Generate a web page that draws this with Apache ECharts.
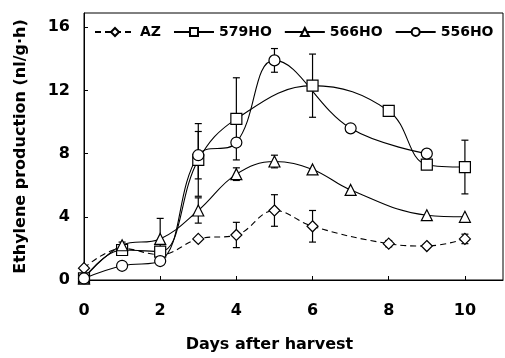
<!DOCTYPE html>
<html>
<head>
<meta charset="utf-8">
<script src="https://cdn.jsdelivr.net/npm/echarts@6/dist/echarts.min.js"></script>
<style>
  html, body { margin: 0; padding: 0; background: #fff; }
  #chart { width: 505px; height: 358px; }
</style>
</head>
<body>
<div id="chart"></div>
<script>
// data
const xTicks = [0, 2, 4, 6, 8, 10]
const yTicks = [0, 4, 8, 12, 16]

const azDays = [0, 1, 2, 3, 4, 5, 6, 8, 9, 10]
const azVals = [0.75, 2.0, 1.6, 2.6, 2.85, 4.4, 3.4, 2.3, 2.15, 2.6]
const azErr = [0, 0.4, 0, 0, 0.8, 1.0, 1.0, 0.2, 0, 0.3]

const ho579Days = [0, 1, 2, 3, 4, 6, 8, 9, 10]
const ho579Vals = [0.1, 1.9, 1.8, 7.6, 10.2, 12.3, 10.7, 7.3, 7.15]
const ho579Err = [0, 0, 0, 2.3, 2.6, 2.0, 0, 0, 1.7]

const ho566Days = [0, 1, 2, 3, 4, 5, 6, 7, 9, 10]
const ho566Vals = [0.1, 2.2, 2.6, 4.4, 6.7, 7.5, 7.0, 5.7, 4.1, 4.0]
const ho566Err = [0, 0, 1.3, 0.8, 0.4, 0.4, 0, 0, 0, 0]

const ho556Days = [0, 1, 2, 3, 4, 5, 7, 9]
const ho556Vals = [0.1, 0.9, 1.2, 7.9, 8.7, 13.9, 9.6, 8.0]
const ho556Err = [0, 0, 0, 1.5, 0, 0.75, 0, 0]

const font = 'DejaVu Sans, sans-serif'

function pairs(days, vals) {
  return days.map((d, i) => [d, vals[i]])
}

function errData(days, vals, errs) {
  return days.map((d, i) => [d, vals[i], errs[i]]).filter(p => p[2] > 0)
}

// vertical error bar with caps
function renderErr(params, api) {
  const x = api.value(0)
  const y = api.value(1)
  const e = api.value(2)
  const top = api.coord([x, y + e])
  const bot = api.coord([x, y - e])
  const cap = 3.5
  const style = { stroke: '#000', lineWidth: 1.2 }
  return {
    type: 'group',
    children: [
      { type: 'line', shape: { x1: top[0], y1: top[1], x2: bot[0], y2: bot[1] }, style },
      { type: 'line', shape: { x1: top[0] - cap, y1: top[1], x2: top[0] + cap, y2: top[1] }, style },
      { type: 'line', shape: { x1: bot[0] - cap, y1: bot[1], x2: bot[0] + cap, y2: bot[1] }, style }
    ]
  }
}

function lineSeries(name, days, vals, symbol, size, dashed) {
  return {
    name,
    type: 'line',
    smooth: 0.4,
    data: pairs(days, vals),
    symbol,
    symbolSize: size,
    z: 3,
    lineStyle: { color: '#000', width: 1.1, type: dashed ? [6, 4] : 'solid' },
    itemStyle: { color: '#fff', borderColor: '#000', borderWidth: 1.2 }
  }
}

function errSeries(days, vals, errs) {
  return {
    type: 'custom',
    renderItem: renderErr,
    data: errData(days, vals, errs),
    z: 2,
    silent: true
  }
}

const chart = echarts.init(document.getElementById('chart'))

chart.setOption({
  animation: false,
  backgroundColor: '#fff',
  grid: {
    left: 84,
    right: 2,
    top: 13,
    bottom: 74,
    show: true,
    borderColor: '#000',
    borderWidth: 1
  },
  legend: {
    left: 94,
    top: 25,
    width: 440,
    padding: 0,
    itemWidth: 40,
    itemHeight: 10,
    itemGap: 12,
    textStyle: { fontFamily: font, fontWeight: 'bold', fontSize: 14, color: '#000' },
    data: ['AZ', '579HO', '566HO', '556HO']
  },
  xAxis: {
    type: 'value',
    min: 0,
    max: 11,
    interval: 2,
    splitLine: { show: false },
    axisLine: { lineStyle: { color: '#000', width: 1 } },
    axisTick: { inside: true, length: 4, lineStyle: { color: '#000' }, customValues: xTicks },
    axisLabel: {
      customValues: xTicks,
      margin: 23,
      fontFamily: font, fontWeight: 'bold', fontSize: 16, color: '#000'
    },
    name: 'Days after harvest',
    nameLocation: 'middle',
    nameGap: 57,
    nameTextStyle: { fontFamily: font, fontWeight: 'bold', fontSize: 16, color: '#000', padding: [0, 48, 0, 0] }
  },
  yAxis: {
    type: 'value',
    min: 0,
    max: 16.9,
    interval: 4,
    splitLine: { show: false },
    axisLine: { lineStyle: { color: '#000', width: 1 } },
    axisTick: { inside: true, length: 4, lineStyle: { color: '#000' }, customValues: yTicks },
    axisLabel: {
      customValues: yTicks,
      margin: 14,
      fontFamily: font, fontWeight: 'bold', fontSize: 16, color: '#000'
    },
    name: 'Ethylene production (nl/g·h)',
    nameLocation: 'middle',
    nameGap: 55,
    nameTextStyle: { fontFamily: font, fontWeight: 'bold', fontSize: 16, color: '#000' }
  },
  series: [
    errSeries(azDays, azVals, azErr),
    errSeries(ho579Days, ho579Vals, ho579Err),
    errSeries(ho566Days, ho566Vals, ho566Err),
    errSeries(ho556Days, ho556Vals, ho556Err),
    lineSeries('AZ', azDays, azVals, 'diamond', [11, 11], true),
    lineSeries('579HO', ho579Days, ho579Vals, 'rect', 11, false),
    lineSeries('566HO', ho566Days, ho566Vals, 'triangle', 11, false),
    lineSeries('556HO', ho556Days, ho556Vals, 'circle', 11, false)
  ]
})
</script>
</body>
</html>
